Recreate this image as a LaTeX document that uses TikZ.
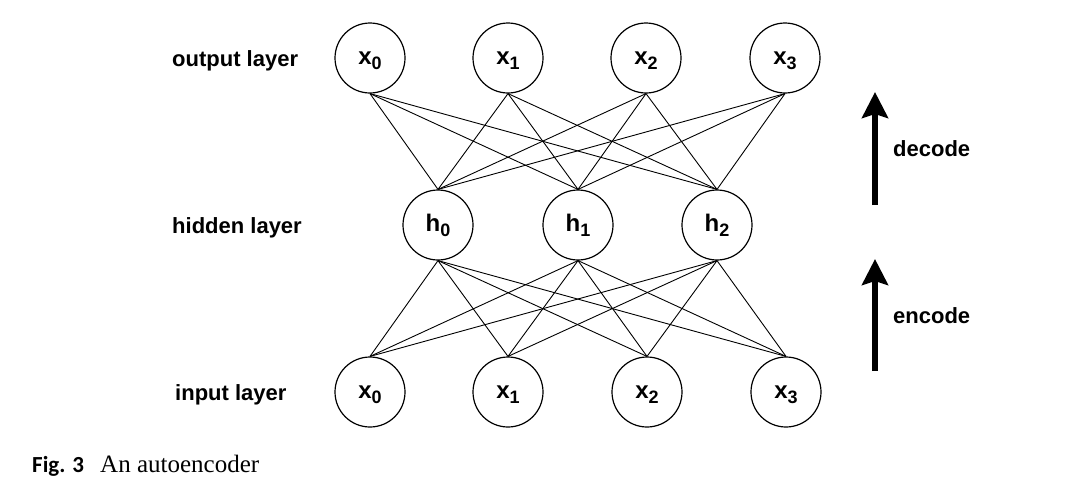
\documentclass[tikz,border=0pt]{standalone}
\usepackage{fontspec}
\setmainfont{Liberation Sans}
\newfontfamily\capserif{Liberation Serif}
\newfontfamily\capsans{Carlito}
\usetikzlibrary{arrows.meta}
\begin{document}
\begin{tikzpicture}[x=1pt,y=-1pt,
  neuron/.style={draw, circle, line width=1.2pt, minimum size=70pt, inner sep=0pt,
    text height=13pt, text depth=0pt,
    font=\fontsize{24}{24}\selectfont\bfseries},
  layerlabel/.style={anchor=base west, inner sep=0pt, font=\fontsize{22}{24}\selectfont\bfseries},
  conn/.style={line width=0.9pt},
  bigarrow/.style={line width=6pt, -{Stealth[width=26pt,length=26pt,inset=4pt]}},
]
\newcommand{\sub}[2]{#1\raisebox{-5pt}{\fontsize{18}{18}\selectfont #2}}
\useasboundingbox (0,0) rectangle (1080,491);
% output layer
\node[neuron] (o0) at (370,58) {\sub{x}{0}};
\node[neuron] (o1) at (508,58) {\sub{x}{1}};
\node[neuron] (o2) at (646,58) {\sub{x}{2}};
\node[neuron] (o3) at (785,58) {\sub{x}{3}};
% hidden layer
\node[neuron] (h0) at (438,225) {\sub{h}{0}};
\node[neuron] (h1) at (578,225) {\sub{h}{1}};
\node[neuron] (h2) at (717,225) {\sub{h}{2}};
% input layer
\node[neuron] (i0) at (370,392) {\sub{x}{0}};
\node[neuron] (i1) at (508,392) {\sub{x}{1}};
\node[neuron] (i2) at (647,392) {\sub{x}{2}};
\node[neuron] (i3) at (786,392) {\sub{x}{3}};
% connections
\foreach \o in {0,1,2,3}{
  \foreach \h in {0,1,2}{
    \draw[conn] (o\o.south) -- (h\h.north);
    \draw[conn] (h\h.south) -- (i\o.north);
  }
}
% layer labels
\node[layerlabel] (lo) at (172,66) {output layer};
\node[layerlabel] (lh) at (172,233) {hidden layer};
\node[layerlabel] (li) at (175,400) {input layer};
% arrows
\coordinate (d0) at (875,205);
\coordinate (d1) at (875,92);
\coordinate (e0) at (875,371);
\coordinate (e1) at (875,259);
\draw[bigarrow] (d0) -- (d1);
\draw[bigarrow] (e0) -- (e1);
\node[layerlabel] (ld) at (893,156) {decode};
\node[layerlabel] (le) at (893,323) {encode};
% caption
\node[anchor=base west, inner sep=0pt, font=\capsans\fontsize{23}{26}\selectfont\bfseries] (fig) at (32,472) {Fig. 3};
\node[anchor=base west, inner sep=0pt, font=\capserif\fontsize{25}{28}\selectfont] (cap) at (100,472) {An autoencoder};
\end{tikzpicture}
\end{document}
